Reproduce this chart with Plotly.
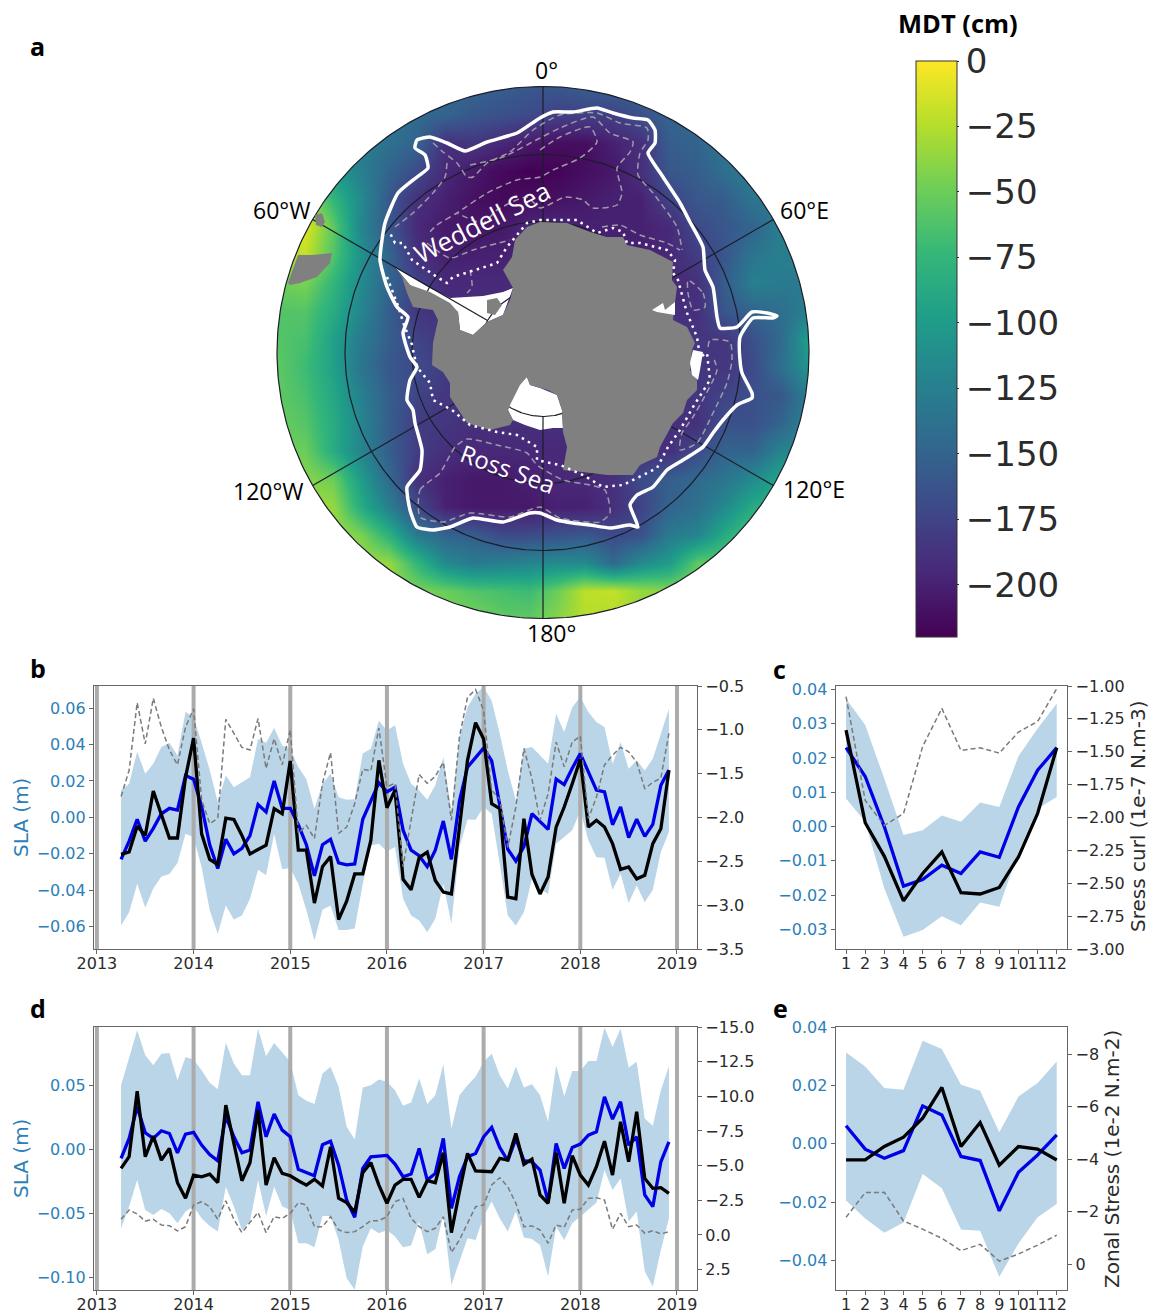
import plotly.graph_objects as go
import numpy as np

W, H = 1151, 1313
DEJA = "DejaVu Sans"
CAL = "Open Sans"
BLUE_TXT = "#2c7fb8"
DARK = "#2b2b2b"
BAND = "rgba(31,119,180,0.31)"

# ---------- panel b (monthly, Apr 2013 .. Dec 2018) ----------
b_blue = [-0.023,-0.013,-0.001,-0.013,-0.006,0.002,0.005,0.004,0.023,0.021,0.006,-0.015,-0.028,-0.012,-0.020,-0.017,-0.010,0.007,0.003,0.020,0.005,0.005,-0.004,-0.015,-0.032,-0.015,-0.012,-0.025,-0.026,-0.0255,-0.001,0.009,0.019,0.014,0.0166,-0.007,-0.018,-0.021,-0.027,-0.018,-0.002,-0.023,0.009,0.0276,0.033,0.038,0.031,0.0075,-0.0175,-0.024,-0.016,0.002,-0.0026,-0.0066,0.021,0.018,0.027,0.035,0.025,0.015,0.014,-0.004,0.0057,-0.011,-0.001,-0.0104,-0.0038,0.0176,0.026]
b_black = [-0.0203,-0.019,-0.0048,-0.0099,0.0145,0.002,-0.0113,-0.0113,0.022,0.0435,-0.009,-0.023,-0.0258,-0.0004,-0.0011,-0.0099,-0.020,-0.0176,-0.0152,0.0048,0.002,0.031,-0.018,-0.018,-0.047,-0.027,-0.0214,-0.056,-0.046,-0.031,-0.031,-0.0126,0.0313,0.0053,0.015,-0.034,-0.0397,-0.022,-0.019,-0.0346,-0.041,-0.042,-0.007,0.0313,0.052,0.043,0.0075,0.0048,-0.0437,-0.0446,-0.0007,-0.0313,-0.042,-0.0327,-0.0053,0.0057,0.0185,0.032,-0.0053,-0.0016,-0.0053,-0.0144,-0.0285,-0.0272,-0.0337,-0.0318,-0.0144,-0.0062,0.0258]
b_dash = [-1.76,-1.46,-0.69,-1.16,-0.64,-0.97,-1.23,-1.40,-0.97,-0.76,-1.80,-2.07,-2.01,-0.88,-1.04,-1.20,-1.23,-0.87,-1.44,-1.10,-1.40,-1.00,-2.18,-2.09,-2.24,-1.61,-1.26,-2.18,-2.11,-1.84,-1.45,-1.47,-0.98,-1.65,-1.61,-2.56,-2.03,-1.51,-1.61,-1.53,-1.37,-2.03,-1.08,-0.63,-0.54,-0.78,-1.69,-1.79,-2.34,-1.88,-1.21,-1.56,-2.03,-1.73,-1.14,-1.42,-1.14,-1.07,-2.01,-1.77,-1.40,-1.29,-1.20,-1.25,-1.37,-1.67,-1.60,-1.55,-1.04]
b_up = [0.015,0.0185,0.036,0.024,0.0295,0.0386,0.041,0.034,0.058,0.055,0.041,0.026,0.0084,0.023,0.0166,0.0194,0.022,0.043,0.041,0.049,0.0395,0.0377,0.0276,0.021,0.0048,0.0185,0.024,0.011,0.0097,0.010,0.035,0.0377,0.053,0.0477,0.0505,0.0294,0.0185,0.0148,0.0097,0.0176,0.0331,0.0038,0.044,0.0605,0.0678,0.0715,0.064,0.046,0.0258,0.0093,0.0377,0.0386,0.034,0.0294,0.0569,0.0468,0.0605,0.066,0.0578,0.0523,0.0496,0.0294,0.0413,0.0267,0.0313,0.0258,0.0322,0.0459,0.0596]
b_lo = [-0.0593,-0.052,-0.0364,-0.0496,-0.039,-0.0324,-0.031,-0.025,-0.009,-0.0108,-0.0273,-0.051,-0.0638,-0.0483,-0.056,-0.0538,-0.0446,-0.0287,-0.0318,-0.009,-0.0285,-0.0278,-0.0364,-0.051,-0.0675,-0.0507,-0.0483,-0.0618,-0.0618,-0.061,-0.0364,-0.0154,-0.0145,-0.0187,-0.0163,-0.0446,-0.0538,-0.0565,-0.063,-0.0556,-0.0364,-0.0583,-0.0163,-0.0011,-0.0013,0.0057,0.002,-0.0254,-0.0538,-0.0593,-0.052,-0.0337,-0.039,-0.042,-0.0145,-0.0108,-0.0071,0.0038,-0.0126,-0.0218,-0.0221,-0.0397,-0.0309,-0.047,-0.0373,-0.0465,-0.0397,-0.019,-0.008]

# ---------- panel d ----------
d_blue = [-0.0073,0.0083,0.033,0.0127,0.0083,0.0143,0.0122,-0.0029,0.0117,0.013,0.0031,-0.0042,-0.0091,0.0257,0.0096,-0.0029,-0.0008,0.0369,0.0096,0.0273,0.0148,0.0096,-0.0158,-0.0182,-0.0208,0.0034,0.0062,-0.0125,-0.0397,-0.0532,-0.0151,-0.006,-0.0052,-0.0049,-0.0117,-0.0216,-0.0195,0.0005,-0.0242,-0.019,0.0083,-0.0462,-0.0216,-0.006,-0.0034,0.0096,0.0169,0.0013,-0.0091,0.0083,-0.0091,-0.0099,-0.0164,-0.041,0.0044,-0.0151,0.0013,0.0039,0.0109,0.0135,0.0408,0.0234,0.0369,0.0031,0.0096,-0.0358,-0.0449,-0.0099,0.0057]
d_black = [-0.0151,-0.006,0.0452,-0.006,0.0101,-0.0086,0.0005,-0.0262,-0.0384,-0.0203,-0.0216,-0.0195,-0.0262,0.0343,0.0044,-0.0247,-0.0106,0.0304,-0.0281,-0.0068,-0.019,-0.0208,-0.0247,-0.0281,-0.0236,-0.0288,0.0018,-0.0384,-0.0418,-0.0494,-0.0184,-0.0106,-0.0281,-0.0423,-0.0281,-0.0236,-0.0236,-0.0377,-0.0247,-0.0262,-0.0029,-0.0652,-0.0332,-0.0034,-0.0171,-0.0171,-0.0177,-0.0073,-0.0086,0.0122,-0.0119,-0.0078,-0.0358,-0.0423,-0.0029,-0.0423,-0.0052,-0.0203,-0.0281,-0.0138,0.0062,-0.0203,0.0213,-0.0099,0.0291,-0.0229,-0.0306,-0.0301,-0.0345]
d_dash = [-1.13,-1.8,-1.51,-1.0,-1.13,-0.72,-0.67,-0.29,-0.6,-2.16,-2.4,-2.04,-1.13,-2.47,-1.13,-0.17,-0.91,-1.63,-0.17,-1.32,-1.2,-1.56,-2.33,-2.16,-0.6,-0.6,-1.32,-0.36,-0.17,-0.24,-0.6,-1.03,-1.03,-1.32,-2.4,-2.64,-1.2,-0.6,-0.24,-0.48,-1.32,1.27,0.36,-0.84,-2.04,-2.16,-3.6,-4.13,-3.48,-2.28,-0.6,-0.65,-0.36,0.6,-0.72,-0.55,-1.8,-1.85,-2.64,-2.69,-2.52,-0.41,-1.56,-0.6,-0.72,-0.12,-0.31,-0.07,-0.24]
d_up = [0.0499,0.0719,0.0927,0.0732,0.0655,0.0745,0.0751,0.0538,0.0719,0.0699,0.0616,0.0517,0.0468,0.0831,0.0668,0.0577,0.0577,0.094,0.0725,0.0829,0.0758,0.0681,0.0421,0.0377,0.0351,0.059,0.0642,0.0486,0.0174,0.0075,0.0481,0.0499,0.0543,0.0525,0.046,0.0338,0.0364,0.0551,0.0351,0.0421,0.066,0.0161,0.0421,0.0499,0.0564,0.0681,0.0745,0.0577,0.0473,0.0642,0.0481,0.0506,0.0421,0.0213,0.0655,0.0413,0.061,0.061,0.0688,0.0688,0.0948,0.0797,0.094,0.0636,0.0681,0.0239,0.0182,0.046,0.0647]
d_lo = [-0.0618,-0.0449,-0.0242,-0.0475,-0.0514,-0.0468,-0.0501,-0.0579,-0.0488,-0.0449,-0.054,-0.06,-0.0644,-0.0294,-0.0449,-0.0631,-0.0566,-0.0242,-0.0522,-0.0294,-0.0449,-0.0475,-0.0735,-0.0735,-0.0766,-0.0522,-0.0522,-0.0709,-0.1008,-0.1099,-0.0761,-0.0618,-0.0657,-0.0631,-0.0683,-0.0766,-0.0753,-0.0566,-0.0821,-0.0782,-0.0514,-0.106,-0.0878,-0.0696,-0.0709,-0.0527,-0.041,-0.054,-0.0644,-0.0488,-0.0691,-0.0701,-0.0748,-0.0995,-0.0605,-0.0709,-0.0579,-0.0527,-0.0475,-0.0418,-0.0164,-0.0319,-0.0229,-0.0566,-0.0488,-0.0956,-0.1073,-0.0787,-0.054]

# ---------- panel c (climatology) ----------
months = [1,2,3,4,5,6,7,8,9,10,11,12]
c_blue = [0.023,0.0146,-0.0001,-0.0174,-0.0155,-0.0113,-0.0137,-0.0074,-0.009,0.0057,0.0164,0.023]
c_black = [0.0281,0.0011,-0.0087,-0.0217,-0.0137,-0.0074,-0.0193,-0.0197,-0.0178,-0.0089,0.0038,0.023]
c_up = [0.0373,0.0296,0.0139,-0.0025,-0.0011,0.0032,0.0014,0.007,0.0057,0.0205,0.0286,0.0359]
c_lo = [0.0082,0.0014,-0.0181,-0.0322,-0.0302,-0.0262,-0.0288,-0.0222,-0.0234,-0.0074,0.0052,0.0086]
c_dash = [-1.08,-1.87,-2.06,-1.97,-1.46,-1.17,-1.49,-1.47,-1.51,-1.35,-1.27,-1.02]

# ---------- panel e (climatology) ----------
e_blue = [0.0062,-0.0018,-0.0049,-0.0023,0.013,0.0099,-0.0043,-0.0057,-0.0229,-0.0097,-0.0038,0.0031]
e_black = [-0.0055,-0.0055,-0.0009,0.0023,0.0088,0.0193,-0.0009,0.0073,-0.0073,-0.0009,-0.0018,-0.0055]
e_up = [0.0313,0.0265,0.0191,0.0185,0.0353,0.0325,0.0202,0.0182,0.004,0.0162,0.0208,0.0282]
e_lo = [-0.0194,-0.0255,-0.0304,-0.0269,-0.0103,-0.0152,-0.0293,-0.0297,-0.0455,-0.0341,-0.0251,-0.0206]
e_dash = [-1.78,-2.72,-2.73,-1.64,-1.33,-0.98,-0.51,-0.75,-0.11,-0.38,-0.72,-1.1]

years = [2013,2014,2015,2016,2017,2018,2019]
time_x = [2013.25 + i/12 for i in range(69)]

# ---------- map: MDT field on a regular map grid (cm) ----------
map_x = [277,305,333,361,389,417,445,473,501,529,557,585,613,641,669,697,725,753,781,809]
map_y = [87,115,143,171,199,227,255,283,311,339,367,395,423,451,479,507,535,563,591,619]
mdt = [
[-110,-110,-110,-110,-120,-130,-145,-150,-155,-160,-160,-155,-150,-150,-150,-150,-150,-145,-140,-140],
[-100,-100,-100,-105,-130,-145,-150,-160,-165,-170,-178,-178,-178,-165,-150,-145,-140,-140,-140,-140],
[-90,-90,-100,-125,-140,-150,-190,-185,-195,-205,-212,-212,-200,-190,-155,-150,-135,-130,-125,-125],
[-70,-70,-100,-125,-150,-170,-195,-205,-215,-220,-218,-212,-205,-190,-160,-155,-140,-125,-125,-125],
[-40,-30,-75,-115,-160,-190,-200,-210,-215,-212,-210,-205,-200,-200,-175,-160,-155,-135,-130,-130],
[-15,-10,-55,-120,-160,-195,-205,-208,-205,-195,-195,-200,-200,-200,-195,-170,-160,-150,-125,-125],
[-30,-20,-60,-110,-150,-190,-200,-200,-200,-200,-200,-200,-200,-200,-195,-180,-160,-135,-125,-125],
[-50,-45,-75,-115,-150,-175,-195,-195,-195,-195,-195,-195,-195,-195,-195,-190,-155,-125,-130,-130],
[-60,-60,-85,-120,-155,-185,-190,-190,-190,-190,-190,-190,-190,-190,-190,-190,-160,-150,-140,-125],
[-60,-65,-95,-130,-155,-175,-185,-185,-185,-185,-185,-185,-185,-185,-185,-185,-185,-165,-145,-95],
[-55,-70,-95,-135,-160,-170,-180,-185,-185,-185,-185,-185,-185,-185,-185,-185,-185,-170,-140,-105],
[-55,-65,-90,-125,-155,-175,-185,-185,-185,-185,-185,-185,-185,-185,-185,-185,-175,-165,-160,-125],
[-50,-60,-85,-120,-155,-180,-185,-190,-190,-190,-190,-190,-190,-190,-190,-190,-165,-165,-150,-120],
[-50,-50,-85,-120,-155,-180,-190,-195,-195,-195,-195,-195,-195,-190,-190,-170,-150,-150,-120,-115],
[-40,-40,-50,-100,-145,-190,-200,-205,-205,-200,-195,-195,-190,-170,-155,-145,-135,-115,-90,-90],
[-30,-30,-35,-85,-125,-170,-200,-205,-205,-205,-200,-200,-190,-175,-150,-140,-115,-85,-80,-80],
[-30,-30,-30,-45,-80,-130,-150,-155,-170,-170,-165,-160,-170,-165,-130,-120,-85,-60,-60,-60],
[-30,-30,-30,-30,-35,-75,-115,-130,-125,-120,-115,-115,-145,-115,-100,-55,-50,-50,-50,-50],
[-30,-30,-30,-30,-30,-45,-50,-60,-65,-70,-50,-22,-20,-35,-40,-40,-40,-40,-40,-40],
[-30,-30,-30,-30,-30,-40,-45,-45,-55,-55,-40,-25,-25,-35,-35,-35,-35,-35,-35,-35],
]

land_x = [540,567,590,607,623,627,650,673,672,677,675,673,687,695,692,690,697,697,687,683,673,660,657,640,633,607,583,563,567,563,562,557,548,540,530,527,520,510,508,513,510,490,467,450,450,443,432,433,438,433,413,407,402,396,410,430,450,458,460,473,487,503,510,513,503,512,515,527,540]
land_y = [222,223,232,237,237,245,250,262,280,287,302,320,327,343,350,370,380,390,400,413,423,447,457,465,475,475,472,470,447,432,410,395,390,388,385,377,385,405,410,420,425,430,423,397,383,372,365,343,320,310,307,293,277,268,285,292,303,312,330,335,322,315,300,288,270,257,240,227,222]
berkner_x = [487,497,502,495,487]
berkner_y = [300,298,305,315,313]
chile_x = [288,298,313,332,330,317,300,290,288]
chile_y = [283,255,255,253,263,277,283,285,283]
island_x = [315,322,325,322,316,315]
island_y = [215,213,222,227,225,215]

ronne_x = [396,430,450,483,503,513,503,487,473,460,458,445,410,396]
ronne_y = [268,288,298,296,292,288,315,322,335,330,312,305,285,268]
ross_x = [508,515,527,530,540,557,562,563,553,540,525,513,508]
ross_y = [410,385,377,385,388,395,410,428,428,430,425,420,410]
amery_x = [652,663,665,675,675,657,652]
amery_y = [310,303,310,302,315,312,310]
shack_x = [693,703,700,698,692,690,693]
shack_y = [350,352,370,380,375,363,350]

front_x = [540,553,573,597,613,633,648,655,655,648,663,680,690,703,705,713,717,720,737,752,767,777,773,753,740,740,742,752,752,737,723,713,703,683,667,653,637,630,638,630,610,590,573,557,540,530,503,473,450,433,417,410,407,420,422,415,413,407,410,417,410,403,408,397,387,380,385,398,417,428,425,415,417,430,447,465,487,517,540]
front_y = [118,112,112,108,113,118,120,130,143,153,177,203,222,247,270,287,317,328,327,312,313,316,318,318,337,360,373,393,398,405,420,433,447,460,470,487,495,505,527,525,528,525,523,520,513,513,522,518,527,530,527,510,487,470,450,423,410,400,380,367,357,333,317,307,287,260,223,193,177,168,155,148,140,137,143,151,142,133,118]

dot1_x = [413,417,430,433,452,470,497,517,537,537,550,560,583,603,623,657,668,680,693,710,707,700,697,687,678,673,675,667,640,627,623,613,597,577,563,540,527,507,497,453,447,437,412,403,395,390]
dot1_y = [350,367,383,400,410,425,432,435,447,460,463,465,475,487,485,468,447,430,407,380,353,357,337,313,280,273,260,250,243,243,232,228,233,220,220,220,223,247,263,277,283,277,260,243,243,233]
dot2_x = [387,397,404,413]
dot2_y = [277,303,325,347]

dash_paths_x = [
 [433,443,457,467,473,487,510,533,560,597,620,647,648,640,638,653,677,682],
 [470,503,540,560,593,610,633,630,617,622,617,593,583,565,540,527,497,483,457],
 [540,560,590,597,580,553,540,517,487,457,437,427],
 [447,445,433,413,395],
 [427,450,473,510],
 [602,620,640,667,680],
 [688,703,705,693,688,688],
 [708,710,730,732,727,713,697,680,682,693,717,713],
 [420,420,440,455,467,497,527,537,563,590,605,610,600,560,540,510,470,443,420],
 [470,472,467],
]
dash_paths_y = [
 [143,152,163,177,177,163,152,130,115,113,123,128,140,153,175,193,227,250],
 [165,157,138,128,117,133,142,152,168,193,205,208,200,197,208,197,210,223,213],
 [150,137,127,142,158,170,177,180,193,213,225,235],
 [163,177,193,213,227],
 [243,258,250,240],
 [227,225,235,243,250],
 [280,293,307,310,293,280],
 [347,340,342,360,383,413,443,450,433,417,370,357],
 [517,490,473,447,439,445,453,465,480,485,490,513,522,518,507,517,513,522,517],
 [270,287,293],
]

grat_lons = [0,60,120,180,240,300]
grat_rings = [64,131,198,266]

# ---------- pixel layout ----------
def dom_x(a, b): return [a/W, b/W]
def dom_y(top, bot): return [1-bot/H, 1-top/H]

CX, CY, R = 543, 352.5, 266
fig = go.Figure()

# map
fig.add_trace(go.Heatmap(x=map_x, y=map_y, z=mdt, zsmooth="best", colorscale="Viridis", zmin=-220, zmax=0,
    xaxis="x", yaxis="y", hoverinfo="skip",
    colorbar=dict(x=916/W, xanchor="left", xpad=0, ypad=0, y=1-61/H, yanchor="top", thickness=41, thicknessmode="pixels",
                  len=576/H, lenmode="fraction", tickvals=[-200,-175,-150,-125,-100,-75,-50,-25,0],
                  tickfont=dict(family=DEJA, size=34, color=DARK), ticks="outside", ticklen=2, tickcolor=DARK,
                  outlinewidth=1, outlinecolor="#333")))
th = np.linspace(0, 2*np.pi, 361)
cxs = CX + R*np.sin(th); cys = CY - R*np.cos(th)
mask_x = [270,816,816,270,270,CX] + list(cxs[::-1]) + [CX,270]
mask_y = [80,80,625,625,80,80] + list(cys[::-1]) + [80,80]
fig.add_trace(go.Scatter(x=mask_x, y=mask_y, mode="lines", fill="toself", fillcolor="white", line=dict(width=0), hoverinfo="skip", xaxis="x", yaxis="y"))

def mp(x, y, **kw):
    fig.add_trace(go.Scatter(x=x, y=y, xaxis="x", yaxis="y", hoverinfo="skip", **kw))

for px, py in [(ronne_x, ronne_y), (ross_x, ross_y)]:
    mp(px, py, mode="lines", fill="toself", fillcolor="white", line=dict(width=0))
for r in grat_rings:
    mp(list(CX + r*np.sin(th)), list(CY - r*np.cos(th)), mode="lines", line=dict(color="#1c1c2a", width=1.2))
for lon in grat_lons:
    a = np.radians(lon)
    mp([CX + 64*np.sin(a), CX + R*np.sin(a)], [CY - 64*np.cos(a), CY - R*np.cos(a)], mode="lines", line=dict(color="#1c1c2a", width=1.2))
for px, py in [(land_x, land_y), (chile_x, chile_y), (island_x, island_y), (berkner_x, berkner_y)]:
    mp(px, py, mode="lines", fill="toself", fillcolor="#808080", line=dict(width=0))
for px, py in [(amery_x, amery_y), (shack_x, shack_y)]:
    mp(px, py, mode="lines", fill="toself", fillcolor="white", line=dict(width=0))
for px, py in zip(dash_paths_x, dash_paths_y):
    mp(px, py, mode="lines", line=dict(color="#a09aa8", width=1.5, dash="6px,4px", shape="spline", smoothing=0.6))
for px, py in [(dot1_x, dot1_y), (dot2_x, dot2_y)]:
    mp(px, py, mode="lines", line=dict(color="white", width=2.5, dash="2.5px,4.5px"))
mp(front_x, front_y, mode="lines", line=dict(color="white", width=3.5, shape="spline", smoothing=0.5))

# line panels
def panel(xa, ya, ya2, x, up, lo, blue, black, dash, yr_span=None):
    fig.add_trace(go.Scatter(x=list(x)+list(x)[::-1], y=list(up)+list(lo)[::-1], mode="lines", fill="toself", fillcolor=BAND,
                             line=dict(width=0), xaxis=xa, yaxis=ya, hoverinfo="skip"))
    if yr_span:
        for yr in years:
            fig.add_trace(go.Scatter(x=[yr, yr], y=yr_span, mode="lines", line=dict(color="#ababab", width=4), xaxis=xa, yaxis=ya, hoverinfo="skip"))
    fig.add_trace(go.Scatter(x=x, y=blue, mode="lines", line=dict(color="#0000e6", width=3.3), xaxis=xa, yaxis=ya))
    fig.add_trace(go.Scatter(x=x, y=dash, mode="lines", line=dict(color="#7a7a7a", width=1.5, dash="5px,3px"), xaxis=xa, yaxis=ya2))
    fig.add_trace(go.Scatter(x=x, y=black, mode="lines", line=dict(color="black", width=3.3), xaxis=xa, yaxis=ya))

rng_b = [-0.0722, 0.0721]; rng_d = [-0.110, 0.0953]
panel("x2","y2","y3", time_x, b_up, b_lo, b_blue, b_black, b_dash, rng_b)
panel("x3","y4","y5", months, c_up, c_lo, c_blue, c_black, c_dash)
panel("x4","y6","y7", time_x, d_up, d_lo, d_blue, d_black, d_dash, rng_d)
panel("x5","y8","y9", months, e_up, e_lo, e_blue, e_black, e_dash)

AX = "#666666"
def xaxis(dom, rng, vals, anchor):
    return dict(domain=dom, range=rng, tickvals=vals, tickangle=0, anchor=anchor, showgrid=False, zeroline=False, showline=True, mirror=True,
                linecolor=AX, linewidth=1.2, ticks="outside", ticklen=4, tickcolor=AX, ticklabelstandoff=-4,
                tickfont=dict(family=DEJA, size=16, color=DARK))
def yleft(dom, rng, vals, fmt, anchor):
    return dict(domain=dom, range=rng, tickvals=vals, tickformat=fmt, anchor=anchor, side="left", showgrid=False, zeroline=False, showline=True,
                linecolor=AX, linewidth=1.2, ticks="outside", ticklen=4, tickcolor=AX, tickfont=dict(family=DEJA, size=16, color=BLUE_TXT))
def yright(rng, vals, fmt, anchor, over):
    return dict(range=rng, tickvals=vals, tickformat=fmt, anchor=anchor, overlaying=over, side="right", showgrid=False, zeroline=False, showline=True,
                linecolor=AX, linewidth=1.2, ticks="outside", ticklen=4, tickcolor=AX, tickfont=dict(family=DEJA, size=16, color=DARK))

xbd = dom_x(94, 697); xce = dom_x(835.7, 1067.3)
yr_rng = [2012.97, 2019.207]; mo_rng = [0.46, 12.55]

layout = dict(
    width=W, height=H, margin=dict(l=0, r=0, t=0, b=0, autoexpand=False), paper_bgcolor="white", plot_bgcolor="white", showlegend=False,
    xaxis=dict(domain=dom_x(270,816), range=[270,816], visible=False, anchor="y"),
    yaxis=dict(domain=dom_y(80,625), range=[625,80], visible=False, anchor="x"),
    xaxis2=xaxis(xbd, yr_rng, years, "y2"),
    yaxis2=yleft(dom_y(686,949), rng_b, [-0.06,-0.04,-0.02,0,0.02,0.04,0.06], ".2f", "x2"),
    yaxis3=yright([-3.5,-0.5], [-3.5,-3,-2.5,-2,-1.5,-1,-0.5], ".1f", "x2", "y2"),
    xaxis3=xaxis(xce, mo_rng, months, "y4"),
    yaxis4=yleft(dom_y(686,949), [-0.03575,0.041], [-0.03,-0.02,-0.01,0,0.01,0.02,0.03,0.04], ".2f", "x3"),
    yaxis5=yright([-3,-1], [-3,-2.75,-2.5,-2.25,-2,-1.75,-1.5,-1.25,-1], ".2f", "x3", "y4"),
    xaxis4=xaxis(xbd, yr_rng, years, "y6"),
    yaxis6=yleft(dom_y(1027,1290), rng_d, [-0.10,-0.05,0,0.05], ".2f", "x4"),
    yaxis7=yright([3.97,-15], [2.5,0,-2.5,-5,-7.5,-10,-12.5,-15], ".1f", "x4", "y6"),
    xaxis5=xaxis(xce, mo_rng, months, "y8"),
    yaxis8=yleft(dom_y(1027,1290), [-0.05,0.04], [-0.04,-0.02,0,0.02,0.04], ".2f", "x5"),
    yaxis9=yright([0.99,-9.03], [0,-2,-4,-6,-8], "d", "x5", "y8"),
)
fig.update_layout(**layout)

def note(px, py, text, size, family=CAL, color="black", angle=0):
    fig.add_annotation(xref="paper", yref="paper", x=px/W, y=1-py/H, text=text, showarrow=False, xanchor="center", yanchor="middle",
                       textangle=angle, font=dict(family=family, size=size, color=color))

for px, py, t in [(37,46,"a"),(38,668,"b"),(779,669,"c"),(38,1008,"d"),(780,1008,"e")]:
    note(px, py, "<b>%s</b>" % t, 25)
note(958, 23, "<b>MDT (cm)</b>", 25.5)
for px, py, t in [(546,70,"0°"),(281,210,"60°W"),(804,210,"60°E"),(268,491,"120°W"),(814,489,"120°E"),(551,633,"180°")]:
    note(px, py, t, 23)
note(482, 222, "Weddell Sea", 26, color="white", angle=-27)
note(508, 468, "Ross Sea", 24, color="white", angle=20)
note(21, 818, "SLA (m)", 20, DEJA, BLUE_TXT, -90)
note(21, 1159, "SLA (m)", 20, DEJA, BLUE_TXT, -90)
note(1138, 817, "Sress curl (1e-7 N.m-3)", 20, DEJA, DARK, -90)
note(1112, 1159, "Zonal Stress (1e-2 N.m-2)", 20, DEJA, DARK, -90)

fig.write_html("out.html", config=dict(displayModeBar=False),
               post_script="document.body.style.margin='0';document.documentElement.style.overflow='hidden';")
